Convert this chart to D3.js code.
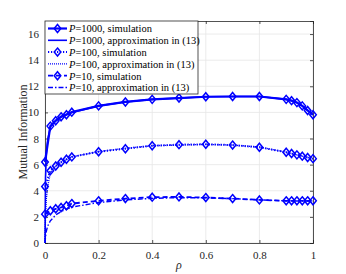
<!DOCTYPE html>
<html>
<head>
<meta charset="utf-8">
<script src="https://cdn.jsdelivr.net/npm/d3@7"></script>
<style>
body { margin: 0; background: #fff; }
text { font-family: "Liberation Serif", "DejaVu Serif", serif; }
</style>
</head>
<body>
<div id="chart"></div>
<script>
var svgWidth = 346;
var svgHeight = 274;

var margin = { top: 21, right: 33, bottom: 31, left: 45 };
var width = svgWidth - margin.left - margin.right;
var height = svgHeight - margin.top - margin.bottom;

// simulation points
var rhoSim = [0, 0.02, 0.04, 0.06, 0.08, 0.1, 0.2, 0.3, 0.4, 0.5, 0.6, 0.7, 0.8, 0.9, 0.92, 0.94, 0.96, 0.98, 1];
var sim1000 = [6.2, 8.95, 9.36, 9.66, 9.82, 10.02, 10.5, 10.8, 11.0, 11.1, 11.2, 11.22, 11.22, 11.0, 10.9, 10.75, 10.5, 10.15, 9.82];
var sim100 = [4.32, 5.54, 5.9, 6.18, 6.41, 6.59, 6.99, 7.22, 7.45, 7.53, 7.56, 7.5, 7.33, 6.95, 6.85, 6.75, 6.65, 6.55, 6.46];
var sim10 = [2.21, 2.47, 2.62, 2.72, 2.85, 3.02, 3.23, 3.4, 3.51, 3.53, 3.48, 3.4, 3.3, 3.23, 3.23, 3.23, 3.23, 3.23, 3.23];

// approximation (13)
var rhoApx = [0, 0.002, 0.005, 0.01, 0.02, 0.04, 0.06, 0.08, 0.1, 0.2, 0.3, 0.4, 0.5, 0.6, 0.7, 0.8, 0.9, 0.92, 0.94, 0.96, 0.98, 1];
var apx1000 = [0, 5.0, 6.8, 7.9, 8.9, 9.4, 9.7, 9.85, 10.0, 10.5, 10.8, 11.0, 11.1, 11.2, 11.22, 11.22, 11.0, 10.9, 10.75, 10.5, 10.15, 9.82];
var apx100 = [0, 2.2, 3.4, 4.3, 5.4, 5.9, 6.2, 6.4, 6.6, 7.0, 7.25, 7.45, 7.5, 7.55, 7.5, 7.35, 6.95, 6.85, 6.75, 6.65, 6.55, 6.45];
var apx10 = [0, 0.5, 0.9, 1.3, 1.7, 2.15, 2.4, 2.6, 2.75, 3.1, 3.3, 3.42, 3.47, 3.46, 3.4, 3.3, 3.23, 3.22, 3.22, 3.22, 3.22, 3.22];

var xTicks = [0, 0.2, 0.4, 0.6, 0.8, 1];
var yTicks = [0, 2, 4, 6, 8, 10, 12, 14, 16];
var legendP = ["1000", "1000", "100", "100", "10", "10"];
var legendText = [", simulation", ", approximation in (13)", ", simulation", ", approximation in (13)", ", simulation", ", approximation in (13)"];

var blue = "#0000ff";
var styles = [
  { dash: null, w: 2.2, marker: true },
  { dash: null, w: 1.6, marker: false },
  { dash: "1.2,1.8", w: 2, marker: true },
  { dash: "1,1", w: 1.4, marker: false },
  { dash: "5,3", w: 1.8, marker: true },
  { dash: "5,2,1.5,2", w: 1.4, marker: false }
];

var series = [
  { x: rhoSim, y: sim1000, s: styles[0] },
  { x: rhoApx, y: apx1000, s: styles[1] },
  { x: rhoSim, y: sim100, s: styles[2] },
  { x: rhoApx, y: apx100, s: styles[3] },
  { x: rhoSim, y: sim10, s: styles[4] },
  { x: rhoApx, y: apx10, s: styles[5] }
];

var svg = d3.select("#chart").append("svg")
  .attr("width", svgWidth)
  .attr("height", svgHeight);

var g = svg.append("g")
  .attr("transform", `translate(${margin.left}, ${margin.top})`);

var x = d3.scaleLinear().domain([0, 1]).range([0, width]);
var y = d3.scaleLinear().domain([0, 17]).range([height, 0]);

// grid
g.append("g").selectAll("line").data(xTicks).enter().append("line")
  .attr("x1", d => x(d)).attr("x2", d => x(d))
  .attr("y1", 0).attr("y2", height)
  .attr("stroke", "#e6e6e6").attr("stroke-width", 0.8);
g.append("g").selectAll("line").data(yTicks).enter().append("line")
  .attr("x1", 0).attr("x2", width)
  .attr("y1", d => y(d)).attr("y2", d => y(d))
  .attr("stroke", "#e6e6e6").attr("stroke-width", 0.8);

// axes
var xAxis = g.append("g")
  .attr("transform", `translate(0, ${height})`)
  .call(d3.axisBottom(x).tickValues(xTicks).tickSize(-3).tickPadding(8).tickFormat(d3.format("")));
var yAxis = g.append("g")
  .call(d3.axisLeft(y).tickValues(yTicks).tickSize(-3).tickPadding(6));
var xTop = g.append("g")
  .call(d3.axisTop(x).tickValues(xTicks).tickSize(-3).tickFormat(""));
var yRight = g.append("g")
  .attr("transform", `translate(${width}, 0)`)
  .call(d3.axisRight(y).tickValues(yTicks).tickSize(-3).tickFormat(""));

[xAxis, yAxis, xTop, yRight].forEach(function(a) {
  a.select(".domain").attr("stroke", "#262626").attr("stroke-width", 0.8);
  a.selectAll(".tick line").attr("stroke", "#262626").attr("stroke-width", 0.8);
  a.selectAll("text").attr("fill", "#262626").style("font-size", "11px")
    .style("font-family", "'Liberation Serif', serif");
});

// data lines
var clip = g.append("g");
series.forEach(function(d) {
  var pts = d.x.map((v, i) => [v, d.y[i]]);
  var line = d3.line().x(p => x(p[0])).y(p => y(p[1]));
  clip.append("path")
    .attr("d", line(pts))
    .attr("fill", "none")
    .attr("stroke", blue)
    .attr("stroke-width", d.s.w)
    .attr("stroke-dasharray", d.s.dash);
  if (d.s.marker) {
    clip.selectAll(null).data(pts).enter().append("path")
      .attr("d", "M0,-4L3.3,0L0,4L-3.3,0Z")
      .attr("transform", p => `translate(${x(p[0])}, ${y(p[1])})`)
      .attr("fill", "none")
      .attr("stroke", blue)
      .attr("stroke-width", 1.5);
  }
});

// legend
var legend = g.append("g");
legend.append("rect")
  .attr("x", 0).attr("y", 0)
  .attr("width", 153).attr("height", 73)
  .attr("fill", "#fff")
  .attr("stroke", "#262626").attr("stroke-width", 0.8);

legendP.forEach(function(p, i) {
  var ly = 7.5 + i * 11.8;
  var s = styles[i];
  legend.append("line")
    .attr("x1", 3).attr("x2", 22)
    .attr("y1", ly).attr("y2", ly)
    .attr("stroke", blue).attr("stroke-width", s.w)
    .attr("stroke-dasharray", s.dash);
  if (s.marker) {
    legend.append("path")
      .attr("d", "M0,-4L3.3,0L0,4L-3.3,0Z")
      .attr("transform", `translate(12.5, ${ly})`)
      .attr("fill", "none").attr("stroke", blue).attr("stroke-width", 1.5);
  }
  var t = legend.append("text")
    .attr("x", 24).attr("y", ly + 3.8)
    .style("font-size", "10.5px")
    .attr("fill", "#000");
  t.append("tspan").style("font-style", "italic").text("P");
  t.append("tspan").text("=" + p + legendText[i]);
});

// axis labels
svg.append("text")
  .attr("x", margin.left + width / 2)
  .attr("y", 269)
  .attr("text-anchor", "middle")
  .style("font-size", "12px")
  .style("font-style", "italic")
  .attr("fill", "#262626")
  .text("ρ");

svg.append("text")
  .attr("transform", `translate(27, ${margin.top + height / 2}) rotate(-90)`)
  .attr("text-anchor", "middle")
  .style("font-size", "12px")
  .attr("fill", "#262626")
  .text("Mutual Information");
</script>
</body>
</html>
